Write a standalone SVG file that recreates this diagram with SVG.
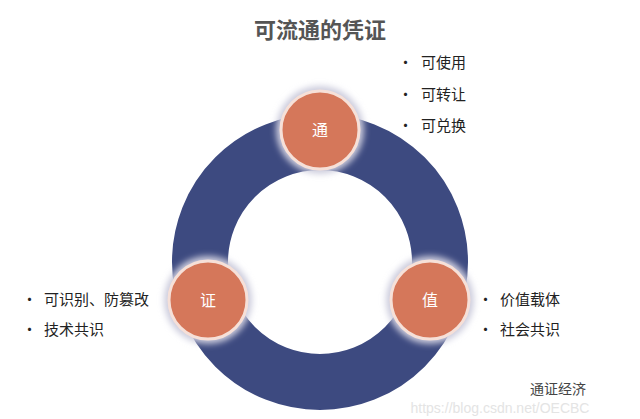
<svg xmlns="http://www.w3.org/2000/svg" width="640" height="419" viewBox="0 0 640 419">
<defs>
<style>
.t{font-family:"Noto Sans CJK SC","Noto Sans",sans-serif}
.b{font-size:15px;fill:#222}
.n{font-size:16px;fill:#fff;text-anchor:middle}
.c{fill:#d5775a;stroke:#f6e0d8;stroke-width:3}
</style>
<filter id="g" x="-50%" y="-50%" width="200%" height="200%"><feGaussianBlur stdDeviation="3"/></filter>
</defs>
<rect width="640" height="419" fill="#fff"/>
<text class="t" x="320" y="38" text-anchor="middle" font-size="22" font-weight="bold" fill="#555">可流通的凭证</text>
<g id="ring"><circle cx="320" cy="262" r="120" fill="none" stroke="#3d4a80" stroke-width="56"/></g>
<g id="tong"><circle cx="320" cy="130" r="44" fill="#ccd" filter="url(#g)"/><circle class="c" cx="320" cy="130" r="39"/><text class="t n" x="320" y="136">通</text></g>
<g id="zheng"><circle cx="208" cy="300" r="44" fill="#ccd" filter="url(#g)"/><circle class="c" cx="208" cy="300" r="39"/><text class="t n" x="208" y="306">证</text></g>
<g id="zhi"><circle cx="430" cy="300" r="44" fill="#ccd" filter="url(#g)"/><circle class="c" cx="430" cy="300" r="39"/><text class="t n" x="430" y="306">值</text></g>
<g id="labels" class="t b">
<text x="398" y="68">•</text><text x="421" y="68">可使用</text>
<text x="398" y="100">•</text><text x="421" y="100">可转让</text>
<text x="398" y="131">•</text><text x="421" y="131">可兑换</text>
<text x="22" y="305">•</text><text x="44" y="305">可识别、防篡改</text>
<text x="22" y="335">•</text><text x="44" y="335">技术共识</text>
<text x="478" y="305">•</text><text x="500" y="305">价值载体</text>
<text x="478" y="335">•</text><text x="500" y="335">社会共识</text>
</g>
<text class="t" x="558" y="394" text-anchor="middle" font-size="14" fill="#444">通证经济</text>
<text x="500" y="413" text-anchor="middle" font-family="Liberation Sans,sans-serif" font-size="14" fill="#e4e4e4">https://blog.csdn.net/OECBC</text>
</svg>
